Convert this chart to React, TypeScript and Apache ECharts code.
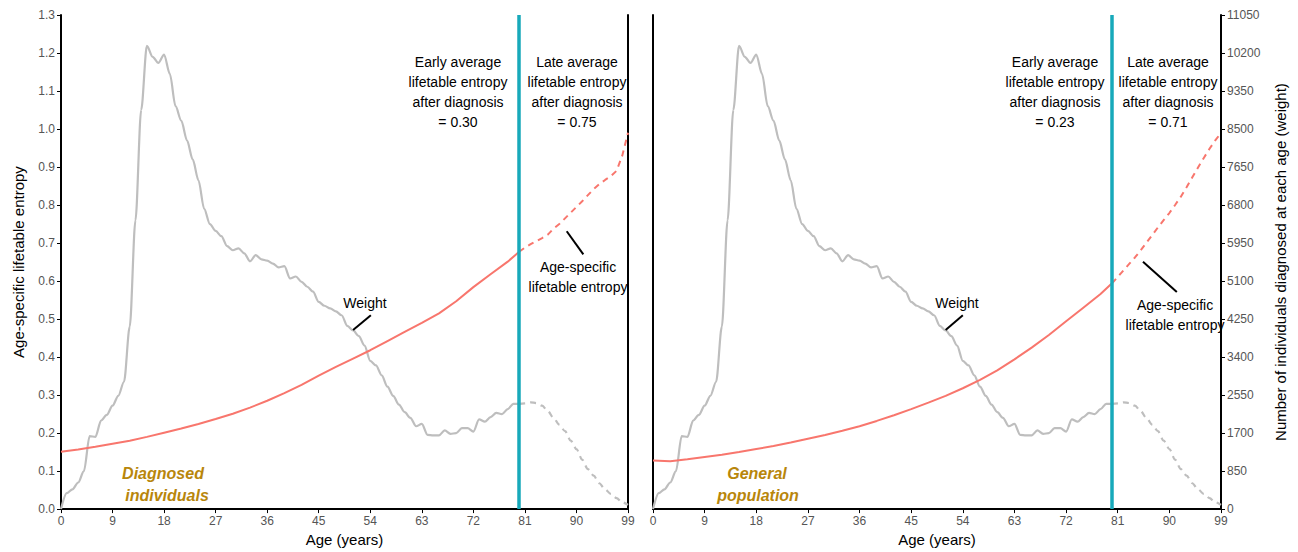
import React, { useEffect, useRef } from "react";
import * as echarts from "echarts";

// ---------- data ----------
const xTicksMax = 99;
const diagnosisAge = 80;

// ages for the solid part of the entropy curves (up to diagnosis age)
const entropyAgesSolid = [0, 3, 6, 9, 12, 15, 18, 21, 24, 27, 30, 33, 36, 39, 42, 45, 48, 51, 54, 57, 60, 63, 66, 69, 72, 75, 78, 80];
const diagnosedEntropySolid = [0.151, 0.157, 0.164, 0.172, 0.18, 0.19, 0.201, 0.212, 0.224, 0.237, 0.251, 0.267, 0.285, 0.305, 0.327, 0.351, 0.374, 0.396, 0.418, 0.442, 0.466, 0.49, 0.515, 0.547, 0.584, 0.618, 0.651, 0.677];
const generalEntropySolid = [0.128, 0.126, 0.131, 0.137, 0.143, 0.15, 0.158, 0.166, 0.175, 0.185, 0.195, 0.206, 0.218, 0.232, 0.247, 0.263, 0.28, 0.298, 0.318, 0.34, 0.365, 0.394, 0.425, 0.458, 0.494, 0.53, 0.566, 0.594];

// ages for the dashed part (after diagnosis age)
const agesDashed = [80, 81, 82, 83, 84, 85, 86, 87, 88, 89, 90, 91, 92, 93, 94, 95, 96, 97, 98, 99];
const diagnosedEntropyDashed = [0.677, 0.688, 0.697, 0.705, 0.713, 0.722, 0.738, 0.75, 0.765, 0.78, 0.795, 0.81, 0.826, 0.842, 0.855, 0.866, 0.876, 0.89, 0.93, 0.99];
const generalEntropyDashed = [0.594, 0.611, 0.628, 0.645, 0.662, 0.681, 0.701, 0.721, 0.741, 0.76, 0.779, 0.8, 0.822, 0.847, 0.873, 0.899, 0.924, 0.948, 0.97, 0.99];

// weight = number of individuals diagnosed at each age, ages 0..80
const weightSolid = [0, 357, 442, 595, 850, 1632, 1615, 1980, 2108, 2312, 2533, 2848, 4080, 6460, 8925, 10362, 10115, 9979, 10166, 9733, 9010, 8687, 8245, 7820, 7353, 6715, 6375, 6222, 6103, 5882, 5789, 5831, 5721, 5542, 5678, 5585, 5559, 5491, 5406, 5432, 5160, 5202, 5083, 4973, 4862, 4633, 4548, 4488, 4420, 4335, 4097, 3995, 3868, 3655, 3315, 3213, 2992, 2737, 2533, 2338, 2168, 2040, 1853, 1904, 1658, 1649, 1649, 1760, 1683, 1700, 1811, 1811, 1734, 2006, 1955, 2057, 2151, 2125, 2236, 2355, 2355];
// ages 80..99
const weightDashed = [2355, 2363, 2389, 2372, 2312, 2193, 2040, 1887, 1743, 1530, 1343, 1105, 893, 748, 578, 442, 340, 247, 153, 94];

const earlyAverage = ["0.30", "0.23"];
const lateAverage = ["0.75", "0.71"];
const panelNames = [["Diagnosed", "individuals"], ["General", "population"]];

// ---------- styles ----------
const FONT = "'Liberation Sans', Arial, sans-serif";
const RED = "#F8766D";
const GREY = "#BEBEBE";
const CYAN = "#17A9BA";
const GOLD = "#B8860B";
const TICK = "#555555";

const G = [
  { left: 61, top: 15, width: 567, height: 499 },
  { left: 653, top: 15, width: 568, height: 499 },
];

function pairs(xs: number[], ys: number[]) {
  return xs.map((x, i) => [x, ys[i]]);
}

export default function App() {
  const ref = useRef<HTMLDivElement>(null);
  useEffect(() => {
    if (!ref.current) return;
    const chart = echarts.init(ref.current, null, { renderer: "svg" });

    const weightSolidPairs = weightSolid.map((v, i) => [i, v]);
    const weightDashedPairs = pairs(agesDashed, weightDashed);

    const xAxisBase = (gi: number) => ({
      gridIndex: gi,
      type: "value",
      min: 0,
      max: xTicksMax,
      interval: 9,
      axisLine: { show: true, lineStyle: { color: "#000", width: 2 } },
      axisTick: { show: true, length: 4, lineStyle: { color: "#000", width: 1 } },
      axisLabel: { color: TICK, fontSize: 12, margin: 6, fontFamily: FONT },
      splitLine: { show: false },
      name: "Age (years)",
      nameLocation: "middle",
      nameGap: 19,
      nameTextStyle: { color: "#000", fontSize: 15, fontFamily: FONT },
    });

    const lineSeries = (
      data: number[][],
      xi: number,
      yi: number,
      color: string,
      dashed: boolean,
      z: number,
      width: number,
      smooth: boolean
    ) => ({
      type: "line",
      xAxisIndex: xi,
      yAxisIndex: yi,
      data,
      showSymbol: false,
      symbol: "none",
      smooth: smooth ? 0.3 : false,
      smoothMonotone: smooth ? "x" : undefined,
      silent: true,
      z,
      lineStyle: { color, width, type: dashed ? [6, 5] : "solid" },
    });

    const pointer = (a: number[], b: number[]) => [
      { coord: a, symbol: "none", lineStyle: { color: "#000", width: 2, type: "solid" } },
      { coord: b, symbol: "none" },
    ];

    const markSeries = (xi: number, yi: number, pointers: any[]) => ({
      type: "line",
      xAxisIndex: xi,
      yAxisIndex: yi,
      data: [],
      silent: true,
      z: 10,
      markLine: {
        silent: true,
        symbol: ["none", "none"],
        animation: false,
        label: { show: false },
        data: [
          {
            xAxis: diagnosisAge,
            lineStyle: { color: CYAN, width: 3.5, type: "solid" },
          },
          ...pointers,
        ],
      },
    });

    const blockText = (x: number, text: string) => ({
      type: "text",
      x,
      y: 52,
      silent: true,
      style: {
        text,
        fill: "#000",
        fontSize: 14,
        fontFamily: FONT,
        lineHeight: 20,
        align: "center",
        verticalAlign: "top",
      },
    });
    const smallText = (x: number, y: number, text: string, extra: any = {}) => ({
      type: "text",
      x,
      y,
      silent: true,
      style: {
        text,
        fill: "#000",
        fontSize: 14,
        fontFamily: FONT,
        lineHeight: 20,
        align: "center",
        verticalAlign: "middle",
        ...extra,
      },
    });
    const goldText = (x: number, y: number, text: string) =>
      smallText(x, y, text, {
        fill: GOLD,
        fontSize: 16,
        fontWeight: "bold",
        fontStyle: "italic",
      });

    const option: any = {
      animation: false,
      textStyle: { fontFamily: FONT },
      grid: G.map((g) => ({ ...g, containLabel: false })),
      xAxis: [xAxisBase(0), xAxisBase(1)],
      yAxis: [
        {
          gridIndex: 0,
          type: "value",
          position: "left",
          min: 0,
          max: 1.3,
          interval: 0.1,
          axisLine: { show: true, lineStyle: { color: "#000", width: 2 } },
          axisTick: { show: true, length: 4, lineStyle: { color: "#000" } },
          axisLabel: {
            color: TICK,
            fontSize: 12,
            margin: 6,
            fontFamily: FONT,
            formatter: (v: number) => v.toFixed(1),
          },
          splitLine: { show: false },
          name: "Age-specific lifetable entropy",
          nameLocation: "middle",
          nameGap: 35,
          nameRotate: 90,
          nameTextStyle: { color: "#000", fontSize: 15, fontFamily: FONT },
        },
        {
          gridIndex: 0,
          type: "value",
          position: "right",
          min: 0,
          max: 11050,
          interval: 850,
          axisLine: { show: true, lineStyle: { color: "#000", width: 2 } },
          axisTick: { show: false },
          axisLabel: { show: false },
          splitLine: { show: false },
        },
        {
          gridIndex: 1,
          type: "value",
          position: "left",
          min: 0,
          max: 1.3,
          interval: 0.1,
          axisLine: { show: true, lineStyle: { color: "#000", width: 2 } },
          axisTick: { show: false },
          axisLabel: { show: false },
          splitLine: { show: false },
        },
        {
          gridIndex: 1,
          type: "value",
          position: "right",
          min: 0,
          max: 11050,
          interval: 850,
          axisLine: { show: true, lineStyle: { color: "#000", width: 2 } },
          axisTick: { show: true, length: 4, lineStyle: { color: "#000" } },
          axisLabel: {
            color: TICK,
            fontSize: 12,
            margin: 6,
            fontFamily: FONT,
            formatter: (v: number) => String(Math.round(v)),
          },
          splitLine: { show: false },
          name: "Number of individuals diagnosed at each age (weight)",
          nameLocation: "middle",
          nameGap: 52,
          nameRotate: 90,
          nameTextStyle: { color: "#000", fontSize: 15, fontFamily: FONT },
        },
      ],
      series: [
        lineSeries(weightSolidPairs, 0, 1, GREY, false, 2, 2.2, true),
        lineSeries(weightDashedPairs, 0, 1, GREY, true, 2, 2.2, true),
        lineSeries(pairs(entropyAgesSolid, diagnosedEntropySolid), 0, 0, RED, false, 3, 2, false),
        lineSeries(pairs(agesDashed, diagnosedEntropyDashed), 0, 0, RED, true, 3, 2, false),
        lineSeries(weightSolidPairs, 1, 3, GREY, false, 2, 2.2, true),
        lineSeries(weightDashedPairs, 1, 3, GREY, true, 2, 2.2, true),
        lineSeries(pairs(entropyAgesSolid, generalEntropySolid), 1, 2, RED, false, 3, 2, false),
        lineSeries(pairs(agesDashed, generalEntropyDashed), 1, 2, RED, true, 3, 2, false),
        markSeries(0, 0, [
          pointer([51.0, 0.471], [54.1, 0.51]),
          pointer([88.3, 0.731], [91.2, 0.67]),
        ]),
        markSeries(1, 2, [
          pointer([51.0, 0.471], [54.0, 0.51]),
          pointer([85.4, 0.651], [91.3, 0.571]),
        ]),
      ],
      graphic: [
        blockText(458, `Early average\nlifetable entropy\nafter diagnosis\n= ${earlyAverage[0]}`),
        blockText(577, `Late average\nlifetable entropy\nafter diagnosis\n= ${lateAverage[0]}`),
        blockText(1055, `Early average\nlifetable entropy\nafter diagnosis\n= ${earlyAverage[1]}`),
        blockText(1168, `Late average\nlifetable entropy\nafter diagnosis\n= ${lateAverage[1]}`),
        smallText(365, 303, "Weight"),
        smallText(957, 303, "Weight"),
        smallText(578, 277, "Age-specific\nlifetable entropy"),
        smallText(1175, 315, "Age-specific\nlifetable entropy"),
        goldText(163, 473, panelNames[0][0]),
        goldText(167, 495, panelNames[0][1]),
        goldText(757, 473, panelNames[1][0]),
        goldText(758, 495, panelNames[1][1]),
      ],
    };

    chart.setOption(option);
    return () => chart.dispose();
  }, []);

  return (
    <div
      ref={ref}
      style={{ position: "fixed", left: 0, top: 0, width: 1298, height: 552, background: "#fff" }}
    />
  );
}
